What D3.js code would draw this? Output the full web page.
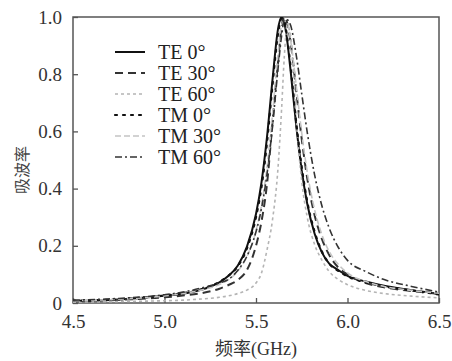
<!DOCTYPE html>
<html>
<head>
<meta charset="utf-8">
<script src="https://cdn.jsdelivr.net/npm/d3@7"></script>
<style>
  body { margin: 0; background: #fff; }
</style>
</head>
<body>
<div id="chart"></div>
<script>
// frequency grid (GHz), shared by all curves
const freq = [4.5, 4.75, 5.0, 5.1, 5.2, 5.3, 5.35, 5.4, 5.45, 5.5, 5.53, 5.56, 5.59, 5.62, 5.64,
  5.655, 5.67, 5.69, 5.72, 5.75, 5.78, 5.82, 5.86, 5.9, 5.95, 6.0, 6.1, 6.2, 6.35, 6.5];

// absorptivity
const te0 = [0.006, 0.012, 0.025, 0.032, 0.046, 0.072, 0.095, 0.13, 0.196, 0.311, 0.422, 0.58, 0.779, 0.957, 1.0,
  0.979, 0.92, 0.806, 0.619, 0.463, 0.347, 0.243, 0.177, 0.138, 0.115, 0.095, 0.075, 0.06, 0.045, 0.032];
const te30 = [0.006, 0.011, 0.02, 0.026, 0.034, 0.05, 0.063, 0.08, 0.115, 0.2, 0.285, 0.415, 0.63, 0.839, 0.966,
  1.0, 0.98, 0.908, 0.741, 0.573, 0.436, 0.308, 0.224, 0.168, 0.124, 0.1, 0.07, 0.055, 0.042, 0.032];
const te60 = [0.003, 0.005, 0.008, 0.01, 0.014, 0.02, 0.025, 0.033, 0.045, 0.07, 0.105, 0.185, 0.29, 0.47, 0.68,
  0.865, 0.97, 0.93, 0.64, 0.425, 0.3, 0.205, 0.15, 0.11, 0.082, 0.064, 0.044, 0.033, 0.024, 0.018];
const tm0 = [0.008, 0.013, 0.026, 0.034, 0.048, 0.074, 0.096, 0.128, 0.19, 0.3, 0.405, 0.56, 0.76, 0.94, 0.995,
  0.985, 0.93, 0.82, 0.63, 0.475, 0.355, 0.25, 0.18, 0.138, 0.112, 0.093, 0.072, 0.058, 0.044, 0.03];
const tm30 = [0.008, 0.013, 0.025, 0.033, 0.045, 0.065, 0.082, 0.111, 0.162, 0.252, 0.341, 0.473, 0.657, 0.869, 0.973,
  0.985, 0.983, 0.915, 0.758, 0.594, 0.458, 0.327, 0.239, 0.18, 0.135, 0.105, 0.075, 0.058, 0.044, 0.034];
const tm60 = [0.01, 0.016, 0.029, 0.038, 0.052, 0.07, 0.083, 0.114, 0.163, 0.249, 0.331, 0.45, 0.616, 0.817, 0.935,
  0.989, 0.99, 0.969, 0.866, 0.731, 0.597, 0.449, 0.34, 0.262, 0.194, 0.149, 0.11, 0.082, 0.058, 0.038];

const seriesNames = ['TE 0°', 'TE 30°', 'TE 60°', 'TM 0°', 'TM 30°', 'TM 60°'];
const seriesValues = [te0, te30, te60, tm0, tm30, tm60];

const xTicks = [4.5, 5.0, 5.5, 6.0, 6.5];
const yTicks = [0, 0.2, 0.4, 0.6, 0.8, 1.0];

// line look per series (same order as seriesNames)
const styles = [
  { stroke: '#111', width: 2, dash: null },
  { stroke: '#333', width: 2, dash: '8,5' },
  { stroke: '#b4b4b4', width: 1.6, dash: '3,3' },
  { stroke: '#111', width: 2.2, dash: '2,6' },
  { stroke: '#c4c4c4', width: 1.6, dash: '6,3' },
  { stroke: '#333', width: 1.6, dash: '7,3,2,3' }
];

const serif = '"Liberation Serif", "Times New Roman", serif';

let margin = { top: 17, left: 73, right: 13, bottom: 58 },
  width = 452 - margin.left - margin.right,
  height = 361 - margin.top - margin.bottom;

let svg = d3.select('#chart')
  .append('svg')
    .attr('width', 452)
    .attr('height', 361);

let g = svg.append('g')
    .attr('transform', 'translate(' + margin.left + ',' + margin.top + ')');

let xScale = d3.scaleLinear().domain([4.5, 6.5]).range([0, width]);
let yScale = d3.scaleLinear().domain([0, 1]).range([height, 0]);

g.append('clipPath').attr('id', 'plotclip')
  .append('rect').attr('width', width).attr('height', height);

// X axis
let xAxis = g.append('g')
    .attr('transform', 'translate(0,' + height + ')')
    .call(d3.axisBottom(xScale)
      .tickValues(xTicks)
      .tickFormat(d3.format('.1f'))
      .tickSizeInner(-5)
      .tickSizeOuter(0)
      .tickPadding(12));

// Y axis
let yAxis = g.append('g')
    .call(d3.axisLeft(yScale)
      .tickValues(yTicks)
      .tickFormat(d => d === 0 ? '0' : d3.format('.1f')(d))
      .tickSizeInner(-5)
      .tickSizeOuter(0)
      .tickPadding(11));

[xAxis, yAxis].forEach(a => {
  a.attr('font-family', serif).attr('font-size', 19);
  a.select('.domain').remove();
  a.selectAll('.tick line').attr('stroke', '#555').attr('stroke-width', 1.3);
  a.selectAll('.tick text')
    .attr('font-family', serif)
    .attr('font-size', 19)
    .attr('fill', '#333');
});

// frame
g.append('rect')
  .attr('width', width)
  .attr('height', height)
  .attr('fill', 'none')
  .attr('stroke', '#555')
  .attr('stroke-width', 1.5);

// curves
let line = d3.line()
  .x((d, i) => xScale(freq[i]))
  .y(d => yScale(d))
  .curve(d3.curveMonotoneX);

g.append('g')
    .attr('clip-path', 'url(#plotclip)')
  .selectAll('path')
  .data(seriesValues)
  .enter()
  .append('path')
    .attr('d', d => line(d))
    .attr('fill', 'none')
    .attr('stroke', (d, i) => styles[i].stroke)
    .attr('stroke-width', (d, i) => styles[i].width)
    .attr('stroke-dasharray', (d, i) => styles[i].dash)
    .attr('stroke-linecap', (d, i) => i === 3 ? 'round' : 'butt');

// legend
let legend = g.append('g')
    .attr('transform', 'translate(42,35)');

let rows = legend.selectAll('g')
  .data(seriesNames)
  .enter()
  .append('g')
    .attr('transform', (d, i) => 'translate(0,' + (i * 21) + ')');

rows.append('line')
    .attr('x1', 0)
    .attr('x2', 30)
    .attr('stroke', (d, i) => styles[i].stroke)
    .attr('stroke-width', (d, i) => styles[i].width)
    .attr('stroke-dasharray', (d, i) => styles[i].dash)
    .attr('stroke-linecap', (d, i) => i === 3 ? 'round' : 'butt');

rows.append('text')
    .attr('x', 43)
    .attr('dy', '0.35em')
    .attr('font-family', serif)
    .attr('font-size', '20px')
    .attr('fill', '#222')
    .text(d => d);

// axis titles
svg.append('text')
    .attr('x', margin.left + width / 2)
    .attr('y', 355)
    .attr('text-anchor', 'middle')
    .attr('font-family', '"Liberation Serif", "Noto Sans CJK SC", serif')
    .attr('font-size', '18px')
    .attr('fill', '#333')
    .text('频率(GHz)');

svg.append('text')
    .attr('transform', 'translate(28,' + (margin.top + height / 2 + 10) + ') rotate(-90)')
    .attr('text-anchor', 'middle')
    .attr('font-family', '"Noto Sans CJK SC", sans-serif')
    .attr('font-size', '16px')
    .attr('fill', '#444')
    .text('吸波率');
</script>
</body>
</html>
